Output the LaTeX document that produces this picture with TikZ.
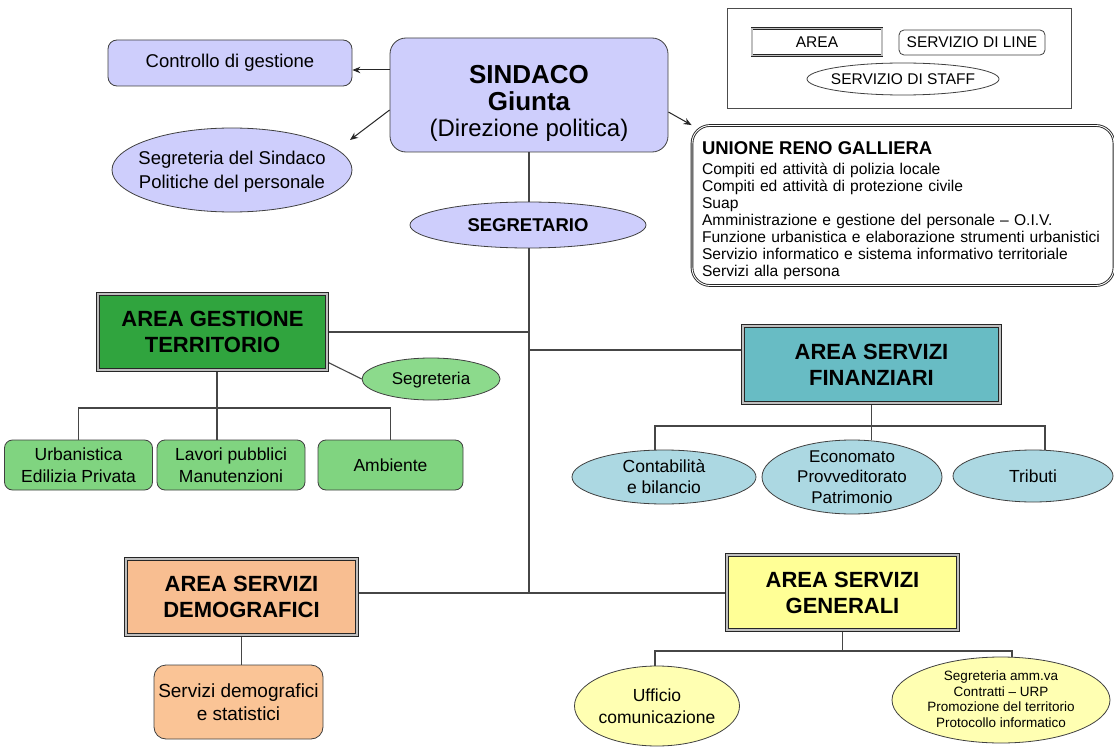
\documentclass[tikz,border=0pt]{standalone}
\usepackage{fontspec}
\setmainfont{Liberation Sans}
\usetikzlibrary{shapes.geometric,arrows.meta,backgrounds}
\definecolor{lav}{RGB}{206,206,252}
\definecolor{agreen}{RGB}{48,164,62}
\definecolor{lgreen}{RGB}{128,212,128}
\definecolor{sgreen}{RGB}{140,218,140}
\definecolor{teal1}{RGB}{104,188,196}
\definecolor{teal2}{RGB}{172,216,226}
\definecolor{peach}{RGB}{248,190,145}
\definecolor{peach2}{RGB}{250,196,150}
\definecolor{yel1}{RGB}{255,255,150}
\definecolor{yel2}{RGB}{255,255,178}
\definecolor{lnc}{RGB}{70,70,70}
\newcommand{\myfs}[2]{\fontsize{#1}{#2}\selectfont}
\newcommand{\etxt}[1]{\smash{\makebox[0pt]{\raisebox{-0.35em}{\begin{tabular}{@{}c@{}}#1\end{tabular}}}}}
\begin{document}
\begin{tikzpicture}[x=1pt,y=-1pt,
  lnk/.style={draw=lnc, line width=1.1pt},
  arr/.style={draw=black!85, line width=1pt, -{Stealth[length=8pt,width=6.5pt]}},
  rbox/.style={draw=black!75, line width=0.8pt, rounded corners=9pt, inner sep=0pt, align=center},
  ell/.style={ellipse, draw=black!75, line width=0.8pt, inner sep=0pt},
  abox/.style={draw=black!85, line width=0.8pt, double=black!25, double distance=1.6pt, inner sep=0pt, align=center, font=\myfs{22}{26}\bfseries},
]
\useasboundingbox (0,0) rectangle (1114,749);

% legend
\node[draw=black!70, line width=0.8pt, minimum width=344, minimum height=100, inner sep=0pt] (leg) at (899,58) {};
\node[draw=black!85, line width=0.7pt, double=black!25, double distance=1.4pt, minimum width=130, minimum height=27, inner sep=0pt, font=\myfs{15.5}{18}] (lar) at (817,42) {AREA};
\node[rbox, rounded corners=5pt, minimum width=146, minimum height=25, font=\myfs{15.5}{18}] (lli) at (972,42.5) {SERVIZIO DI LINE};
\node[ell, minimum width=192, minimum height=32, font=\myfs{15.5}{18}] (lst) at (903,79) {\etxt{SERVIZIO DI STAFF}};

% top
\node[rbox, fill=lav, minimum width=244, minimum height=46, font=\myfs{18.5}{22}] (ctrl) at (230,63) {Controllo di gestione};
\node[rbox, fill=lav, rounded corners=16pt, minimum width=278, minimum height=114, font=\myfs{24}{26.5}] (sind) at (529,95) {{\rule{0pt}{35pt}\myfs{26}{26.5}\bfseries SINDACO}\\{\myfs{26}{26.5}\bfseries Giunta}\\(Direzione politica)};
\node[ell, fill=lav, minimum width=240, minimum height=84, font=\myfs{18.5}{24}] (segs) at (232,170) {\etxt{Segreteria del Sindaco\\Politiche del personale}};
\coordinate (segtip) at (350,140);
\node[ell, fill=lav, minimum width=236, minimum height=46, font=\myfs{18.5}{22}\bfseries] (segr) at (528,225) {\etxt{SEGRETARIO}};

\node[draw=black!85, line width=0.9pt, double=white, double distance=0.9pt, rounded corners=18pt, minimum width=422, minimum height=160, text width=402, align=left, inner sep=0pt, font=\myfs{15.6}{17}] (unione) at (903,205.5) {{\rule{0pt}{24pt}\myfs{18.5}{20}\bfseries UNIONE RENO GALLIERA}\\[3pt]
Compiti ed attività di polizia locale\\
Compiti ed attività di protezione civile\\
Suap\\
Amministrazione e gestione del personale – O.I.V.\\
Funzione urbanistica e elaborazione strumenti urbanistici\\
Servizio informatico e sistema informativo territoriale\\
Servizi alla persona};

% area gestione territorio
\node[abox, fill=agreen, minimum width=229, minimum height=76] (agt) at (212.5,332) {AREA GESTIONE\\TERRITORIO};
\node[ell, fill=sgreen, minimum width=138, minimum height=42, font=\myfs{17}{20}] (segg) at (431,379) {\etxt{Segreteria}};
\node[rbox, fill=lgreen, rounded corners=8pt, minimum width=148, minimum height=50, font=\myfs{17.5}{22}] (urb) at (78.5,465) {Urbanistica\\Edilizia Privata};
\node[rbox, fill=lgreen, rounded corners=8pt, minimum width=148, minimum height=50, font=\myfs{17.5}{22}] (lav) at (231,465) {Lavori pubblici\\Manutenzioni};
\node[rbox, fill=lgreen, rounded corners=8pt, minimum width=145, minimum height=50, font=\myfs{17.5}{22}] (amb) at (390.5,465) {Ambiente};

% area servizi finanziari
\node[abox, fill=teal1, minimum width=257, minimum height=77] (asf) at (871.5,364.5) {AREA SERVIZI\\FINANZIARI};
\node[ell, fill=teal2, minimum width=184, minimum height=54, font=\myfs{17.5}{21}] (con) at (664,477) {\etxt{Contabilità\\e bilancio}};
\node[ell, fill=teal2, minimum width=180, minimum height=74, font=\myfs{17}{20.5}] (eco) at (852,477) {\etxt{Economato\\Provveditorato\\Patrimonio}};
\node[ell, fill=teal2, minimum width=160, minimum height=52, font=\myfs{17.5}{22}] (tri) at (1033,476) {\etxt{Tributi}};

% area servizi demografici
\node[abox, fill=peach, minimum width=231, minimum height=76] (asd) at (241.5,597) {AREA SERVIZI\\DEMOGRAFICI};
\node[rbox, fill=peach2, rounded corners=12pt, minimum width=169, minimum height=74, font=\myfs{19}{23}] (sds) at (238.5,702) {Servizi demografici\\e statistici};

% area servizi generali
\node[abox, fill=yel1, minimum width=231, minimum height=75] (asg) at (842.5,592.5) {AREA SERVIZI\\GENERALI};
\node[ell, fill=yel2, minimum width=165, minimum height=80, font=\myfs{17.5}{22}] (uff) at (657,706) {\etxt{Ufficio\\comunicazione}};
\node[ell, fill=yel2, minimum width=218, minimum height=86, font=\myfs{13.5}{15.5}] (sam) at (1001,700) {\etxt{Segreteria amm.va\\Contratti – URP\\Promozione del territorio\\Protocollo informatico}};

% arrows
\draw[arr] (sind.west |- 0,70) -- (ctrl.east |- 0,70);
\draw[arr] (sind.west |- 0,110) -- (segtip);
\draw[arr] (sind.east |- 0,112) -- (unione.north west);

% connectors
\coordinate (gx) at (217,0);
\coordinate (fL) at (655,426);
\coordinate (fR) at (1045,426);
\coordinate (gL) at (655,651);
\coordinate (gR) at (1012,651);
\begin{scope}[on background layer]
\fill[white] (0,0) rectangle (1114,749);
\draw[lnk] (sind.south) -- (sind.south |- 0,593);
\draw[lnk] (agt.east) -- (sind.south |- agt.east);
\draw[lnk] (agt.east |- 0,362) -- (segg.west);
\draw[lnk] (gx |- agt.south) -- (gx |- lav.north);
\draw[lnk] (urb.north) -- (urb.north |- 0,408) -- (amb.north |- 0,408) -- (amb.north);
\draw[lnk] (sind.south |- 0,350) -- (asf.west |- 0,350);
\draw[lnk] (asf.south) -- (asf.south |- eco.north);
\draw[lnk] (fL |- con.north) -- (fL) -- (fR) -- (fR |- tri.north);
\draw[lnk] (asd.east |- 0,593) -- (asg.west |- 0,593);
\draw[lnk] (asd.south) -- (asd.south |- sds.north);
\draw[lnk] (asg.south) -- (asg.south |- gL);
\draw[lnk] (gL |- uff.north) -- (gL) -- (gR) -- (gR |- sam.north);
\end{scope}
\end{tikzpicture}
\end{document}
